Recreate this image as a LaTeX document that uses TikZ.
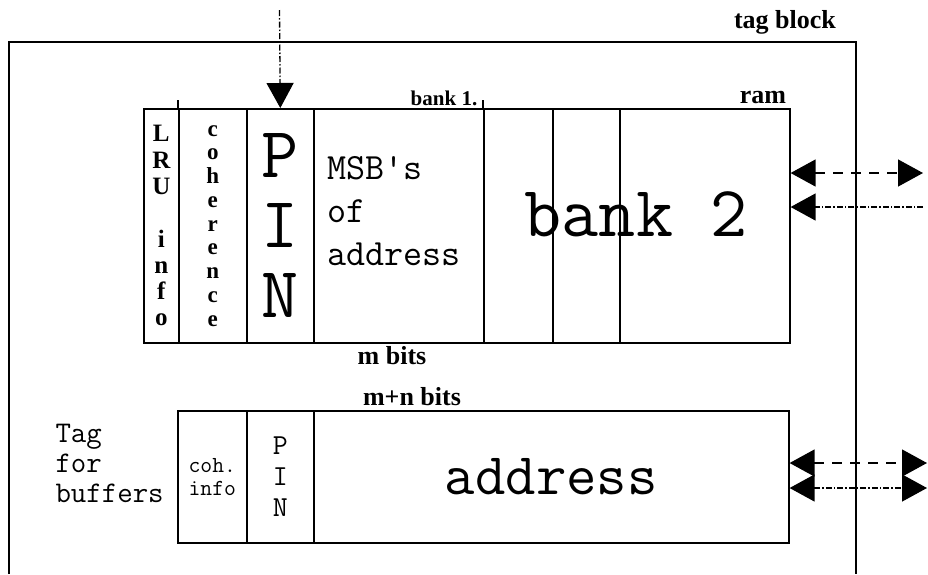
\documentclass[tikz,border=0pt]{standalone}
\usepackage{fontspec}
\newfontfamily\labelfont{Liberation Serif}
\usetikzlibrary{arrows.meta}

\tikzset{
  cell/.style={draw, line width=1.6pt, inner sep=0pt, anchor=north west, align=center},
  bigtt/.style={font=\ttfamily\fontsize{72}{70}\selectfont},
  smalllabel/.style={font=\labelfont\bfseries\fontsize{26}{26}\selectfont, inner sep=0pt},
  letters/.style={font=\labelfont\bfseries\fontsize{25}{26.3}\selectfont},
  onehead/.style={-{Triangle[length=25pt,width=27pt]}},
  twoheads/.style={{Triangle[length=25pt,width=27pt]}-{Triangle[length=25pt,width=27pt]}},
  dashline/.style={line width=1.3pt, dash pattern=on 10pt off 8pt},
  dotline/.style={line width=1.3pt, dash pattern=on 6pt off 2pt on 1.5pt off 2pt},
}

\begin{document}
\begin{tikzpicture}[x=1pt,y=-1pt]
\useasboundingbox (0,0) rectangle (928,574);

% Outer tag block (open at the bottom)
\draw[line width=1.6pt] (9,574) -- (9,42) -- (856,42) -- (856,574);
\node[smalllabel] (tagblock) at (785,22) {tag block};

% Upper ram: bank 1 and bank 2
\node[cell, letters, minimum width=35pt, minimum height=234pt] (lru) at (143,108)
  {L\\R\\U\\ \\i\\n\\f\\o};
\node[cell, font=\labelfont\bfseries\fontsize{23}{23.75}\selectfont,
  minimum width=68pt, minimum height=234pt] (coher) at (178,108)
  {c\\o\\h\\e\\r\\e\\n\\c\\e};
\node[cell, bigtt, minimum width=67pt, minimum height=234pt] (pin) at (246,108)
  {P\\I\\N};
\node[cell, minimum width=170pt, minimum height=234pt] (msb) at (313,108) {};
\node[cell, minimum width=69pt, minimum height=234pt] (bankA) at (483,108) {};
\node[cell, minimum width=67pt, minimum height=234pt] (bankB) at (552,108) {};
\node[cell, minimum width=170pt, minimum height=234pt] (bankC) at (619,108) {};

% Ticks above the top edge
\draw[line width=1.6pt] (coher.north west) -- ++(0,-8);
\draw[line width=1.6pt] (bankA.north west) -- ++(0,-8);

% Labels of the upper ram
\node[font=\ttfamily\fontsize{37}{43}\selectfont, align=left, anchor=west] (msbtext)
  at (324,211) {MSB's\\of\\address};
\node[bigtt] (bank2) at (636,214) {bank 2};
\node[smalllabel, font=\labelfont\bfseries\fontsize{21}{21}\selectfont] (bank1) at (444,98) {bank 1.};
\node[smalllabel] (ram) at (763,97) {ram};
\node[smalllabel] (mbits) at (392,356) {m bits};
\node[smalllabel] (mnbits) at (412,397) {m+n bits};

% Tag for buffers
\node[font=\ttfamily\fontsize{30}{30}\selectfont, align=left, anchor=west] (tagbuf)
  at (52,463) {Tag\\for\\buffers};
\node[cell, font=\ttfamily\fontsize{23}{23}\selectfont, minimum width=69pt,
  minimum height=132pt] (cohinfo) at (177,410) {coh.\\info};
\node[cell, font=\ttfamily\fontsize{29}{31}\selectfont, minimum width=67pt,
  minimum height=132pt] (pinlow) at (246,410) {P\\I\\N};
\node[cell, font=\ttfamily\fontsize{59}{59}\selectfont, minimum width=475pt,
  minimum height=132pt] (addr) at (313,410) {address};

% Arrows
\coordinate (src) at (279.5,10);
\draw[dotline, onehead] (src) -- (pin.north);

\coordinate (busA) at (923,173);
\coordinate (busB) at (923,207);
\coordinate (busC) at (927,463);
\coordinate (busD) at (927,488);
\draw[dashline, twoheads] (busA -| bankC.east) -- (busA);
\draw[dotline, onehead] (busB) -- (busB -| bankC.east);
\draw[dashline, twoheads] (busC -| addr.east) -- (busC);
\draw[dotline, twoheads] (busD -| addr.east) -- (busD);
\end{tikzpicture}
\end{document}
